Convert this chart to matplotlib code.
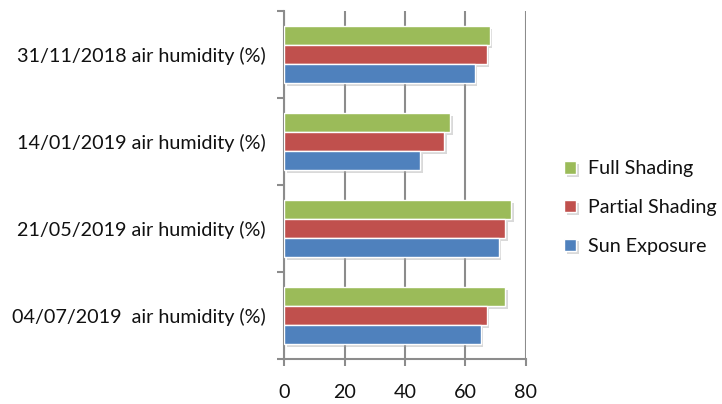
import matplotlib
matplotlib.use("Agg")
import matplotlib.pyplot as plt
import matplotlib.patheffects as pe
import numpy as np

categories = [
    "31/11/2018 air humidity (%)",
    "14/01/2019 air humidity (%)",
    "21/05/2019 air humidity (%)",
    "04/07/2019  air humidity (%)",
]
series_names = ["Full Shading", "Partial Shading", "Sun Exposure"]
full_shading = [68, 55, 75, 73]
partial_shading = [67, 53, 73, 67]
sun_exposure = [63, 45, 71, 65]
x_ticks = [0, 20, 40, 60, 80]

colors = ["#9BBB59", "#C0504D", "#4F81BD"]
series = [full_shading, partial_shading, sun_exposure]

plt.rcParams["font.family"] = ["Lato", "DejaVu Sans"]
fs = 14.2

fig = plt.figure(figsize=(7.22, 4.04), dpi=100)
ax = fig.add_axes([0.3934, 0.1114, 0.335, 0.8614])

y = np.arange(len(categories))
h = 0.218
shadow = [pe.SimplePatchShadow(offset=(2, -2), shadow_rgbFace="#a0a0a0", alpha=0.4), pe.Normal()]
for i, (vals, c, name) in enumerate(zip(series, colors, series_names)):
    ax.barh(y + (i - 1) * h, vals, height=h, color=c, edgecolor="white",
            linewidth=1.0, label=name, zorder=3, path_effects=shadow)

ax.set_xlim(0, 80)
ax.set_ylim(3.5, -0.5)
ax.set_xticks(x_ticks)
ax.set_xticklabels([str(v) for v in x_ticks])
ax.set_yticks(y)
ax.set_yticklabels(categories)
ax.set_yticks(np.arange(-0.5, 4.0, 1.0), minor=True)

ax.grid(axis="x", color="#8c8c8c", linewidth=1.5, zorder=0)
for s in ["top", "right", "bottom"]:
    ax.spines[s].set_visible(False)
ax.spines["left"].set_color("#8c8c8c")
ax.spines["left"].set_linewidth(1.5)
ax.axhline(3.5, color="#8c8c8c", linewidth=1.5, zorder=2, clip_on=False)

ax.tick_params(axis="y", which="major", length=0, pad=13, labelsize=fs, labelcolor="#111111")
ax.tick_params(axis="y", which="minor", length=5, width=1.5, color="#8c8c8c", direction="out")
ax.tick_params(axis="x", which="major", length=5, width=1.5, color="#8c8c8c", direction="out",
               pad=13, labelsize=fs, labelcolor="#111111")

handles, labels = ax.get_legend_handles_labels()
fig.legend(handles, labels, loc="center left", bbox_to_anchor=(0.762, 0.486),
           frameon=False, fontsize=fs, handlelength=0.6, handleheight=0.6,
           handletextpad=0.6, labelspacing=1.1, borderpad=0.2)
for t in fig.legends[0].get_texts():
    t.set_color("#111111")

fig.savefig("out.png", dpi=100)
